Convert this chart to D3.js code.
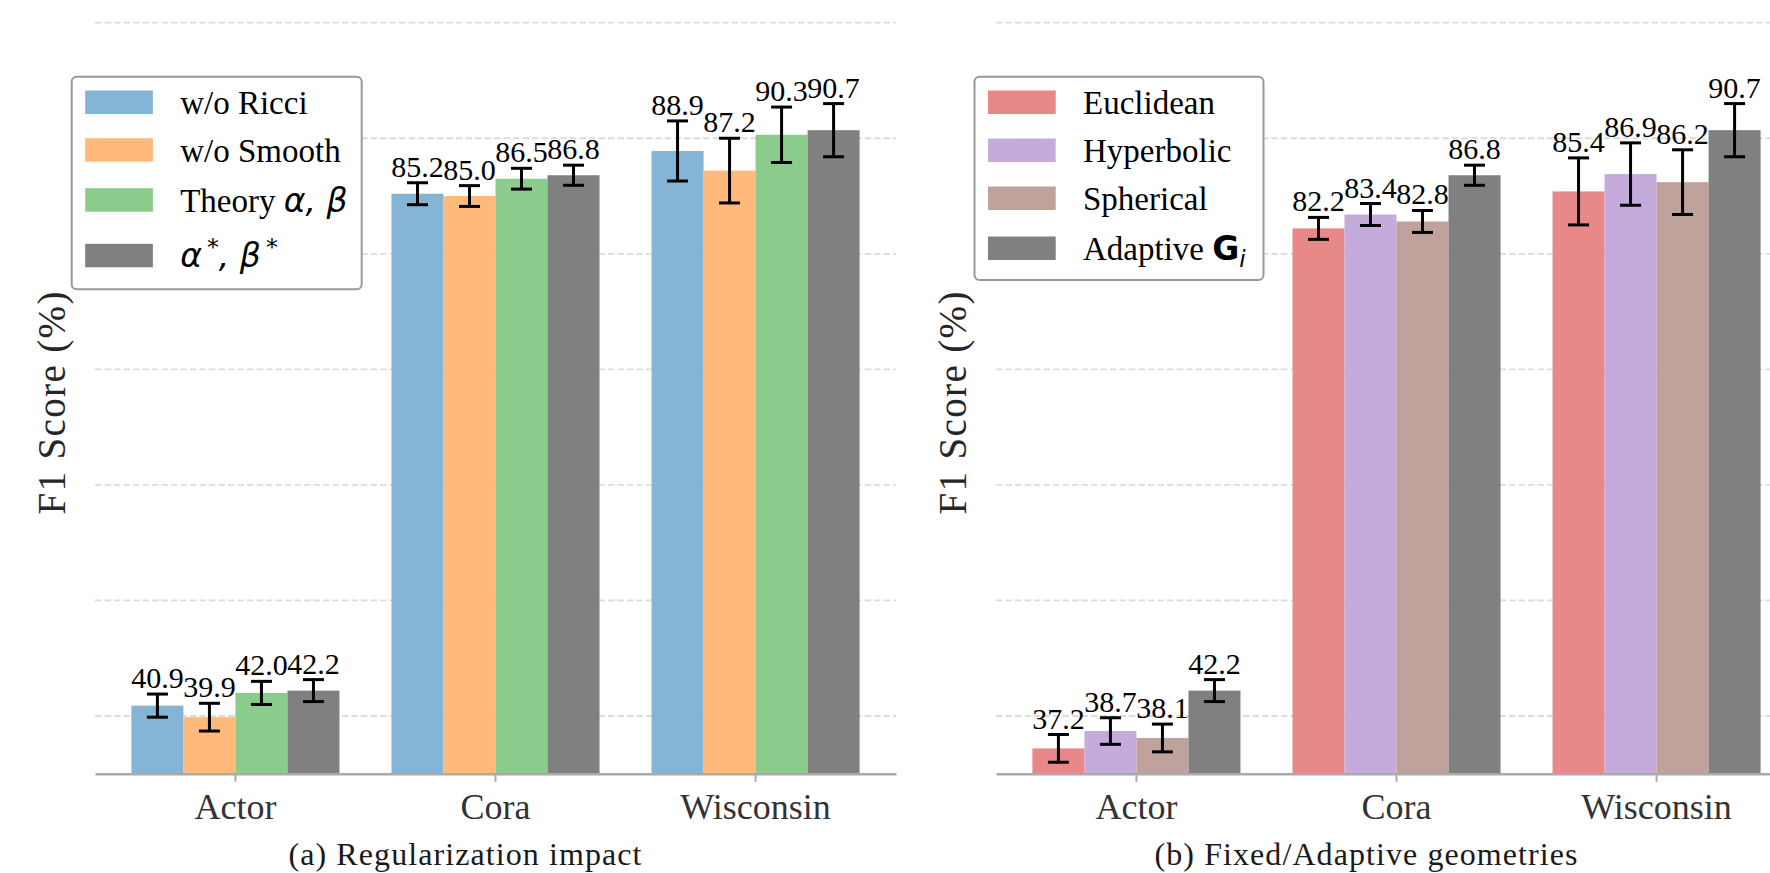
<!DOCTYPE html>
<html><head><meta charset="utf-8">
<script src="https://cdn.jsdelivr.net/npm/d3@7"></script>
<style>body{margin:0;background:#fff} svg{display:block;background:#fff}</style>
</head><body>
<svg id="chart" width="1770" height="873"></svg>
<script>
// ---------------- data ----------------
const categories = ["Actor", "Cora", "Wisconsin"];
const yTicks = [40, 50, 60, 70, 80, 90, 100];

const regSeries = ["w/o Ricci", "w/o Smooth", "Theory $α, β$", "$α^*, β^*$"];
const regValues = [
  [40.9, 85.2, 88.9],
  [39.9, 85.0, 87.2],
  [42.0, 86.5, 90.3],
  [42.2, 86.8, 90.7]
];
const regErrors = [
  [1.0, 0.95, 2.6],
  [1.2, 0.9, 2.8],
  [1.0, 0.9, 2.4],
  [0.95, 0.87, 2.3]
];
const regColors = ["#84b4d6", "#ffb97a", "#8bcb8b", "#808080"];

const geoSeries = ["Euclidean", "Hyperbolic", "Spherical", "Adaptive $\\mathbf{G}_i$"];
const geoValues = [
  [37.2, 82.2, 85.4],
  [38.7, 83.4, 86.9],
  [38.1, 82.8, 86.2],
  [42.2, 86.8, 90.7]
];
const geoErrors = [
  [1.2, 0.95, 2.9],
  [1.15, 0.95, 2.7],
  [1.2, 0.95, 2.8],
  [0.95, 0.87, 2.3]
];
const geoColors = ["#e88888", "#c4abdb", "#c0a29c", "#808080"];

const yLabel = "F1 Score (%)";
const captions = ["(a) Regularization impact", "(b) Fixed/Adaptive geometries"];

// ---------------- helpers ----------------
const SERIF = "'Liberation Serif','Times New Roman',serif";
const SANS = "'DejaVu Sans',sans-serif";

function parseLabel(label) {
  const out = [];
  label.split("$").forEach((p, i) => {
    if (i % 2 === 0) { if (p) out.push({ t: p, kind: "rm" }); return; }
    let j = 0;
    while (j < p.length) {
      if (p.startsWith("\\mathbf{", j)) {
        const k = p.indexOf("}", j);
        out.push({ t: p.slice(j + 8, k), kind: "bf" }); j = k + 1;
      } else if (p[j] === "^" || p[j] === "_") {
        out.push({ t: p[j + 1], kind: p[j] === "^" ? "sup" : "sub" }); j += 2;
      } else {
        const last = out[out.length - 1];
        if (last && last.kind === "it") last.t += p[j]; else out.push({ t: p[j], kind: "it" });
        j++;
      }
    }
  });
  return out;
}

function richText(sel, label, size) {
  const segs = parseLabel(label);
  let shift = 0;
  segs.forEach(s => {
    const ts = sel.append("tspan").text(s.t);
    let target = 0;
    if (s.kind === "rm") ts.attr("font-family", SERIF).attr("font-size", size);
    else if (s.kind === "it") ts.attr("font-family", SANS).attr("font-style", "italic").attr("font-size", size);
    else if (s.kind === "bf") ts.attr("font-family", SANS).attr("font-weight", "bold").attr("font-size", size);
    else if (s.kind === "sup") { ts.attr("font-family", SANS).attr("font-size", size * 0.72).attr("dx", 5); target = -12; }
    else if (s.kind === "sub") { ts.attr("font-family", SANS).attr("font-style", "italic").attr("font-size", size * 0.7); target = 7; }
    if (target !== shift) { ts.attr("dy", target - shift); shift = target; }
  });
}

// ---------------- layout ----------------
const svg = d3.select("#chart");
const y = d3.scaleLinear().domain([35, 100]).range([773.8, 22.7]);

function drawPanel(opts) {
  const g = svg.append("g");
  const x0 = opts.x0, x1 = opts.x0 + 801;
  const x = d3.scaleBand().domain(categories).range([x0, x1]).paddingInner(0.2).paddingOuter(0.14);
  const xs = d3.scaleBand().domain(d3.range(opts.series.length)).range([0, x.bandwidth()]);

  // grid
  g.append("g").selectAll("line").data(yTicks).join("line")
    .attr("x1", x0).attr("x2", x1)
    .attr("y1", d => y(d)).attr("y2", d => y(d))
    .attr("stroke", "#dcdcdc").attr("stroke-width", 1.8)
    .attr("stroke-dasharray", "6.5,3");

  // bars
  opts.series.forEach((s, si) => {
    const sg = g.append("g");
    sg.selectAll("rect").data(categories).join("rect")
      .attr("x", c => x(c) + xs(si))
      .attr("width", xs.bandwidth())
      .attr("y", (c, ci) => y(opts.values[si][ci]))
      .attr("height", (c, ci) => y(35) - y(opts.values[si][ci]))
      .attr("fill", opts.colors[si]);
  });

  // error bars + labels
  opts.series.forEach((s, si) => {
    const eg = g.append("g").attr("stroke", "#000").attr("stroke-width", 3);
    categories.forEach((c, ci) => {
      const cx = x(c) + xs(si) + xs.bandwidth() / 2;
      const v = opts.values[si][ci], e = opts.errors[si][ci];
      eg.append("line").attr("x1", cx).attr("x2", cx).attr("y1", y(v - e)).attr("y2", y(v + e));
      eg.append("line").attr("x1", cx - 10.5).attr("x2", cx + 10.5).attr("y1", y(v - e)).attr("y2", y(v - e));
      eg.append("line").attr("x1", cx - 10.5).attr("x2", cx + 10.5).attr("y1", y(v + e)).attr("y2", y(v + e));
      g.append("text").attr("x", cx).attr("y", y(v + e) - 6)
        .attr("text-anchor", "middle").attr("font-family", SERIF).attr("font-size", 30)
        .attr("fill", "#000").text(v.toFixed(1));
    });
  });

  // x axis
  const ax = g.append("g").attr("transform", `translate(0,${y(35)})`)
    .call(d3.axisBottom(x).tickSize(8).tickSizeOuter(0));
  ax.attr("font-family", SERIF);
  ax.select(".domain").attr("stroke", "#aaaaaa").attr("stroke-width", 2.5);
  ax.selectAll(".tick line").attr("stroke", "#aaaaaa").attr("stroke-width", 2);
  ax.selectAll(".tick text").attr("y", 45).attr("dy", 0)
    .attr("font-family", SERIF).attr("font-size", 36).attr("fill", "#333");

  // y label
  g.append("text").attr("transform", `translate(${x0 - 30},403) rotate(-90)`)
    .attr("text-anchor", "middle").attr("font-family", SERIF).attr("font-size", 39)
    .attr("fill", "#262626").attr("textLength", 223).attr("lengthAdjust", "spacing")
    .text(yLabel);

  // caption
  g.append("text").attr("x", opts.capX).attr("y", 865).attr("text-anchor", "middle")
    .attr("font-family", SERIF).attr("font-size", 32).attr("fill", "#1a1a1a")
    .attr("textLength", opts.capLen).attr("lengthAdjust", "spacing")
    .text(opts.caption);

  // legend
  const L = opts.legend;
  const lg = g.append("g");
  lg.append("rect").attr("x", L.x).attr("y", 76.7).attr("width", L.w).attr("height", L.h)
    .attr("rx", 5).attr("fill", "#fff").attr("fill-opacity", 0.92)
    .attr("stroke", "#999").attr("stroke-width", 2);
  opts.series.forEach((s, si) => {
    const base = L.rows[si];
    lg.append("rect").attr("x", L.x + 13.5).attr("y", base - 23.5)
      .attr("width", 67.7).attr("height", 23.5).attr("fill", opts.colors[si]);
    const t = lg.append("text").attr("x", L.x + 108.5).attr("y", base).attr("fill", "#000");
    richText(t, s, 33);
  });
}

drawPanel({
  x0: 95, series: regSeries, values: regValues, errors: regErrors, colors: regColors,
  caption: captions[0], capX: 465, capLen: 353,
  legend: { x: 71.7, w: 290, h: 212.6, rows: [114, 161.7, 211.7, 267.3] }
});
drawPanel({
  x0: 996, series: geoSeries, values: geoValues, errors: geoErrors, colors: geoColors,
  caption: captions[1], capX: 1366, capLen: 423,
  legend: { x: 974.5, w: 289, h: 203.3, rows: [114, 162, 210, 260] }
});
</script>
</body></html>
